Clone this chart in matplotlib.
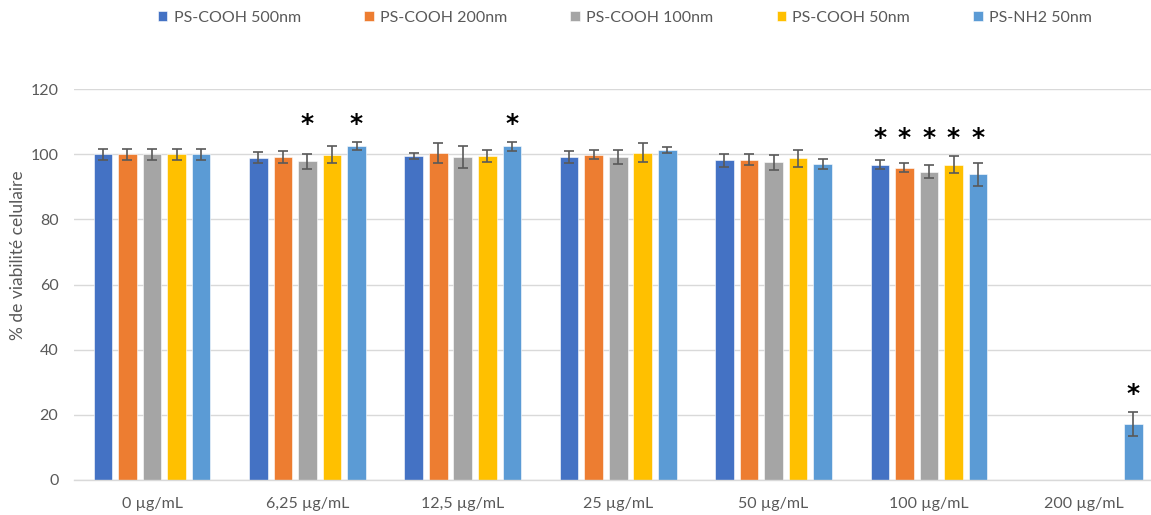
import numpy as np
import matplotlib
matplotlib.use("Agg")
import matplotlib.pyplot as plt

plt.rcParams['font.family'] = ['Lato', 'DejaVu Sans']

labels = ['0 µg/mL', '6,25 µg/mL', '12,5 µg/mL', '25 µg/mL', '50 µg/mL', '100 µg/mL', '200 µg/mL']
series = ['PS-COOH 500nm', 'PS-COOH 200nm', 'PS-COOH 100nm', 'PS-COOH 50nm', 'PS-NH2 50nm']
nan = np.nan

cooh500 = [100, 98.9, 99.4, 99.1, 98.1, 96.8, nan]
cooh200 = [100, 99.1, 100.4, 99.9, 98.3, 95.9, nan]
cooh100 = [100, 97.9, 99.1, 99.1, 97.5, 94.7, nan]
cooh50 = [100, 99.9, 99.4, 100.5, 98.8, 96.8, nan]
nh2_50 = [100, 102.5, 102.4, 101.3, 97.1, 93.9, 17.2]

err500 = [1.7, 1.7, 1.0, 1.8, 2.0, 1.4, nan]
err200 = [1.7, 1.9, 3.2, 1.5, 1.7, 1.4, nan]
err100 = [1.7, 2.3, 3.4, 2.1, 2.2, 2.1, nan]
err50 = [1.7, 2.5, 1.9, 2.8, 2.6, 2.6, nan]
err_nh2 = [1.7, 1.2, 1.5, 0.8, 1.5, 3.5, 3.8]

# significance (*) per series per group
sig500 = [0, 0, 0, 0, 0, 1, 0]
sig200 = [0, 0, 0, 0, 0, 1, 0]
sig100 = [0, 1, 0, 0, 0, 1, 0]
sig50 = [0, 0, 0, 0, 0, 1, 0]
sig_nh2 = [0, 1, 1, 0, 0, 1, 1]

colors = ['#4472C4', '#ED7D31', '#A5A5A5', '#FFC000', '#5B9BD5']
values = [cooh500, cooh200, cooh100, cooh50, nh2_50]
errors = [err500, err200, err100, err50, err_nh2]
sigs = [sig500, sig200, sig100, sig50, sig_nh2]

fig = plt.figure(figsize=(11.51, 5.15), dpi=100)
ax = fig.add_axes([0.0646, 0.068, 0.945, 0.759])

x = np.arange(len(labels))
step = 0.158
width = 0.12
grey = '#595959'

for i in range(len(series)):
    pos = x + (i - 2) * step
    ax.bar(pos, values[i], width, color=colors[i], label=series[i], zorder=2,
           edgecolor='white', linewidth=0.4)
    ax.errorbar(pos, values[i], yerr=errors[i], fmt='none', ecolor=grey,
                elinewidth=1.2, capsize=3.5, capthick=1.2, zorder=3)

# asterisks above each group
tops = np.nanmax(np.array(values) + np.array(errors), axis=0)
for i in range(len(series)):
    for g in range(len(labels)):
        if sigs[i][g]:
            ax.text(x[g] + (i - 2) * step, tops[g] + 5.5, '*', ha='center', va='center',
                    fontsize=18, fontweight='bold', color='black', family='DejaVu Sans')

ax.set_xlim(-0.5, len(labels) - 0.5)
ax.set_ylim(0, 120)
ax.set_yticks(range(0, 121, 20))
ax.set_xticks(x)
ax.set_xticklabels(labels)
ax.tick_params(axis='both', length=0, labelsize=11.5, colors=grey)
ax.tick_params(axis='y', pad=11.5)
ax.tick_params(axis='x', pad=12)
ax.yaxis.grid(True, color='#D9D9D9', linewidth=1, zorder=0)
ax.set_axisbelow(True)
for s in ['top', 'right', 'left']:
    ax.spines[s].set_visible(False)
ax.spines['bottom'].set_color('#D9D9D9')
ax.spines['bottom'].set_linewidth(1)

fig.text(0.016, 0.505, '% de viabilité celulaire', rotation=90, ha='center', va='center',
         fontsize=12.5, color=grey)

fig.legend(loc='center', bbox_to_anchor=(0.543, 0.965), ncol=5, frameon=False,
           fontsize=11.5, handlelength=0.6, handleheight=0.6, handletextpad=0.4,
           columnspacing=3.95, labelcolor=grey)

fig.savefig('out.png', dpi=100)
